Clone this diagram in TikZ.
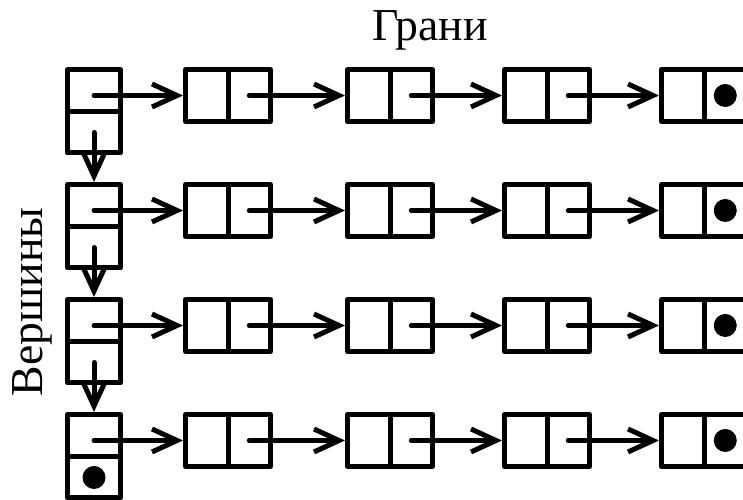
\documentclass[tikz,border=0pt]{standalone}
\usepackage{fontspec}
\setmainfont{Liberation Serif}
\usetikzlibrary{arrows.meta}

\begin{document}
\begin{tikzpicture}[
        cell/.style={draw, line width=0.1cm, line join=round, minimum width=0.85cm, minimum height=1.04cm, inner sep=0pt},
        vcell/.style={draw, line width=0.1cm, line join=round, minimum width=1.06cm, inner sep=0pt},
        link/.style={line width=0.1cm, line cap=round, -{Straight Barb[length=0.5cm, width=0.46cm, line width=0.1cm]}}]
                        \useasboundingbox (0,0) rectangle (14.86,10);
                        \clip (0,0) rectangle (14.86,10);

                        \node[anchor=base] (edges) at (8.6,9.18) {\fontsize{26}{30}\selectfont Грани};
                        \node[anchor=base, rotate=90] (verts) at (0.86,3.96) {\fontsize{26}{30}\selectfont Вершины};

                        \foreach \r/\y in {1/8.12, 2/5.82, 3/3.52, 4/1.22} {
                            \node[vcell, minimum height=0.85cm] (vtop\r) at (1.88,\y+0.065) {};
                            \node[vcell, minimum height=0.82cm] (vbot\r) at (1.88,\y-0.77) {};
                            \foreach \k/\x in {1/4.135, 2/7.375, 3/10.515, 4/13.655} {
                                \node[cell] (el\r-\k) at (\x,\y-0.03) {};
                                \node[cell] (er\r-\k) at (\x+0.85,\y-0.03) {};
                            }
                            \draw[link] (vtop\r.center |- el\r-1.center) -- (el\r-1.west);
                            \foreach \k [evaluate=\k as \n using int(\k+1)] in {1,2,3}
                                \draw[link] (er\r-\k.center) -- (el\r-\n.west);
                            \fill (er\r-4.center) circle (0.23);
                        }

                        \foreach \r [evaluate=\r as \n using int(\r+1)] in {1,2,3}
                            \draw[link] (vbot\r.center) -- (vtop\n.north);
                        \fill (vbot4.center) circle (0.23);
                    \end{tikzpicture}
\end{document}
